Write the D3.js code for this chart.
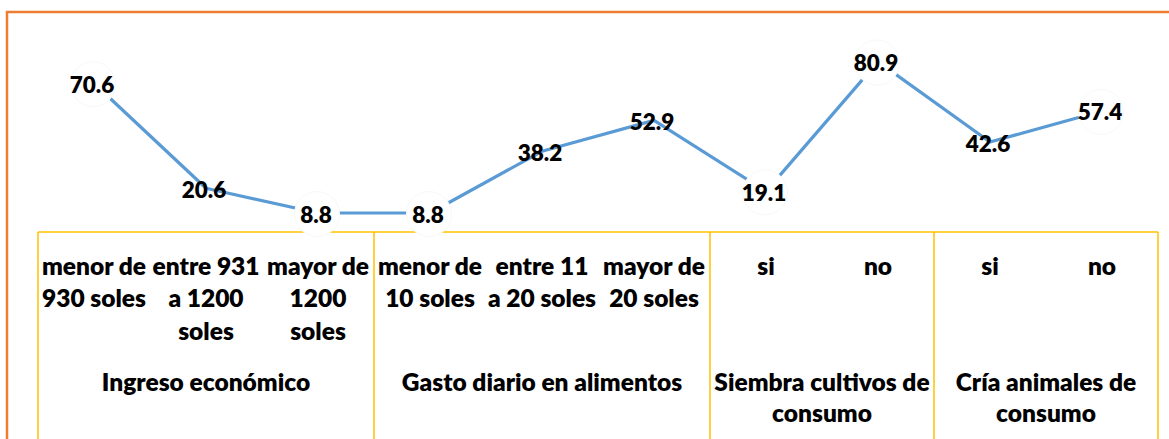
<!DOCTYPE html>
<html>
<head>
<meta charset="utf-8">
<script src="https://cdn.jsdelivr.net/npm/d3@7"></script>
<style>
  html, body { margin: 0; padding: 0; background: #fff; overflow: hidden; }
  svg { display: block; }
  text { font-family: Lato, "Open Sans", sans-serif; font-weight: 800; fill: #000; }
</style>
</head>
<body>
<svg id="chart" width="1169" height="439"></svg>
<script>
// ---- data ----
const values = [70.6, 20.6, 8.8, 8.8, 38.2, 52.9, 19.1, 80.9, 42.6, 57.4];
const subLabels = [
  ["menor de", "930 soles"],
  ["entre 931", "a 1200", "soles"],
  ["mayor de", "1200", "soles"],
  ["menor de", "10 soles"],
  ["entre 11", "a 20 soles"],
  ["mayor de", "20 soles"],
  ["si"], ["no"],
  ["si"], ["no"]
];
const groupLabels = [
  ["Ingreso económico"],
  ["Gasto diario en alimentos"],
  ["Siembra cultivos de", "consumo"],
  ["Cría animales de", "consumo"]
];
const groupSizes = [3, 3, 2, 2];

// ---- style ----
const maskedLabels = new Set([0, 2, 3, 6, 7, 9]);
const W = 1169, H = 439;
const svg = d3.select("#chart");
const tableTop = 232, plotLeft = 38, plotRight = 1158;

const idx = d3.range(values.length);
const x = d3.scaleBand().domain(idx).range([plotLeft, plotRight]).padding(0);
const y = d3.scaleLinear().domain([0, 100]).range([231.5, 21.5]);
const cx = i => x(i) + x.bandwidth() / 2;

// outer orange frame
svg.append("path")
  .attr("d", `M7,${H + 5} V12 H${W + 5}`)
  .attr("fill", "none").attr("stroke", "#ED7D31").attr("stroke-width", 2.5);

// category table lines
const gold = "#FFC000";
svg.append("line").attr("x1", plotLeft).attr("x2", plotRight)
  .attr("y1", tableTop).attr("y2", tableTop)
  .attr("stroke", gold).attr("stroke-width", 1.5);
let bounds = [0];
groupSizes.forEach(s => bounds.push(bounds[bounds.length - 1] + s));
const boundX = bounds.map(b => b < values.length ? x(b) : x(values.length - 1) + x.bandwidth());
svg.selectAll("line.vdiv").data(boundX).join("line")
  .attr("class", "vdiv")
  .attr("x1", d => d).attr("x2", d => d)
  .attr("y1", tableTop).attr("y2", H + 5)
  .attr("stroke", gold).attr("stroke-width", 1.5);

// sub labels
const fs = 24.5, fsVal = 22.5;
const subG = svg.append("g");
subLabels.forEach((lines, i) => {
  const t = subG.append("text").attr("text-anchor", "middle").attr("font-size", fs);
  lines.forEach((ln, k) => {
    t.append("tspan").attr("x", cx(i)).attr("y", 274.5 + k * 32.5).text(ln);
  });
});

// group labels
groupLabels.forEach((lines, g) => {
  const mid = (boundX[g] + boundX[g + 1]) / 2;
  const t = svg.append("text").attr("text-anchor", "middle").attr("font-size", fs);
  lines.forEach((ln, k) => {
    t.append("tspan").attr("x", mid).attr("y", 391 + k * 31).text(ln);
  });
});

// line
const line = d3.line().x((d, i) => cx(i)).y(d => y(d));
svg.append("path").datum(values)
  .attr("d", line)
  .attr("fill", "none").attr("stroke", "#5B9BD5").attr("stroke-width", 3.2)
  .attr("stroke-linejoin", "round");

// data labels
const lab = svg.append("g");
values.forEach((v, i) => {
  if (maskedLabels.has(i)) {
    lab.append("circle").attr("cx", cx(i) - 1).attr("cy", y(v) + 1).attr("r", 22.5)
      .attr("fill", "#fff").attr("stroke", "#f8f8f8").attr("stroke-width", 1);
  }
});
lab.selectAll("text.val").data(values).join("text")
  .attr("class", "val")
  .attr("text-anchor", "middle").attr("font-size", fsVal)
  .attr("x", (d, i) => cx(i) - 2)
  .attr("y", d => y(d) + 9.5)
  .text(d => d3.format(".1f")(d));
</script>
</body>
</html>
